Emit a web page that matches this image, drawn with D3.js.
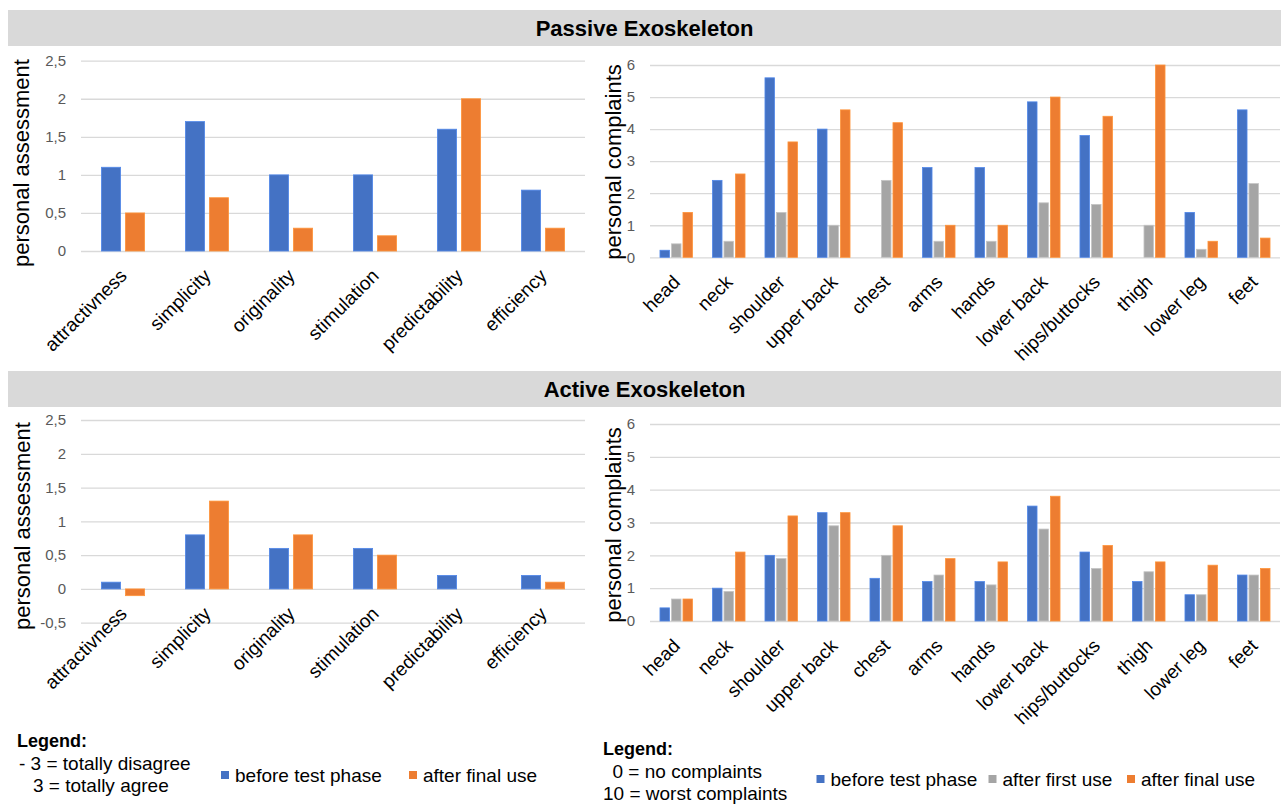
<!DOCTYPE html>
<html>
<head>
<meta charset="utf-8">
<script src="https://cdn.jsdelivr.net/npm/d3@7"></script>
<style>
  html, body { margin: 0; padding: 0; background: #ffffff; }
  svg { display: block; }
  text { font-family: Arial, "Liberation Sans", sans-serif; }
</style>
</head>
<body>
<svg id="chart" width="1281" height="806"></svg>
<script>
// ---------- DATA ----------
const assessCategories = ["attractivness", "simplicity", "originality", "stimulation", "predictability", "efficiency"];
const passiveAssessBefore = [1.1, 1.7, 1.0, 1.0, 1.6, 0.8];
const passiveAssessFinal  = [0.5, 0.7, 0.3, 0.2, 2.0, 0.3];
const activeAssessBefore  = [0.1, 0.8, 0.6, 0.6, 0.2, 0.2];
const activeAssessFinal   = [-0.1, 1.3, 0.8, 0.5, 0, 0.1];

const bodyCategories = ["head", "neck", "shoulder", "upper back", "chest", "arms", "hands", "lower back", "hips/buttocks", "thigh", "lower leg", "feet"];
const passiveBodyBefore = [0.22, 2.4, 5.6, 4.0, 0, 2.8, 2.8, 4.85, 3.8, 0, 1.4, 4.6];
const passiveBodyFirst  = [0.42, 0.5, 1.4, 1.0, 2.4, 0.5, 0.5, 1.7, 1.65, 1.0, 0.25, 2.3];
const passiveBodyFinal  = [1.4, 2.6, 3.6, 4.6, 4.2, 1.0, 1.0, 5.0, 4.4, 6.0, 0.5, 0.6];
const activeBodyBefore  = [0.4, 1.0, 2.0, 3.3, 1.3, 1.2, 1.2, 3.5, 2.1, 1.2, 0.8, 1.4];
const activeBodyFirst   = [0.67, 0.9, 1.9, 2.9, 2.0, 1.4, 1.1, 2.8, 1.6, 1.5, 0.8, 1.4];
const activeBodyFinal   = [0.67, 2.1, 3.2, 3.3, 2.9, 1.9, 1.8, 3.8, 2.3, 1.8, 1.7, 1.6];

const assessTicksPassive = [0, 0.5, 1, 1.5, 2, 2.5];
const assessTicksActive  = [-0.5, 0, 0.5, 1, 1.5, 2, 2.5];
const bodyTicks = [0, 1, 2, 3, 4, 5, 6];

const sectionTitles = ["Passive Exoskeleton", "Active Exoskeleton"];
const assessSeriesNames = ["before test phase", "after final use"];
const bodySeriesNames = ["before test phase", "after first use", "after final use"];
const assessLegendNotes = ["- 3 = totally disagree", "3 = totally agree"];
const bodyLegendNotes = ["0 = no complaints", "10 = worst complaints"];
const yTitleAssess = "personal assessment";
const yTitleBody = "personal complaints";

// ---------- STYLE ----------
const BLUE = "#4472C4", ORANGE = "#ED7D31", GRAY = "#A5A5A5";
const GRID = "#d9d9d9";
const fmt = d => String(d).replace(".", ",");

const svg = d3.select("#chart");

// Section headers
const headerY = [10, 371];
headerY.forEach((y, i) => {
  svg.append("rect").attr("x", 8).attr("y", y).attr("width", 1273).attr("height", 36).attr("fill", "#d9d9d9");
  svg.append("text").attr("x", 644.5).attr("y", y + 18).attr("dy", "0.36em")
    .attr("text-anchor", "middle").attr("font-weight", "bold").attr("font-size", 22)
    .attr("fill", "#000").text(sectionTitles[i]);
});

function panel(o) {
  const g = svg.append("g");
  const x = d3.scaleBand().domain(o.cats).range([o.x0, o.x1])
    .paddingInner(o.pad).paddingOuter(o.pad / 2);
  const xs = d3.scaleBand().domain(d3.range(o.series.length)).range([0, x.bandwidth()])
    .paddingInner(o.subPad).paddingOuter(o.subPad / 2);
  const y = d3.scaleLinear().domain(o.domain).range([o.y0, o.y1]);

  // grid + y tick labels
  const yAxis = d3.axisLeft(y).tickValues(o.ticks).tickFormat(fmt)
    .tickSizeInner(-(o.x1 - o.x0)).tickSizeOuter(0).tickPadding(15);
  const ga = g.append("g").attr("transform", `translate(${o.x0},0)`).call(yAxis);
  ga.select(".domain").remove();
  ga.selectAll(".tick line").attr("stroke", GRID).attr("stroke-width", 1.3);
  ga.selectAll(".tick text").attr("fill", "#595959").attr("font-size", 15)
    .attr("font-family", "Arial, 'Liberation Sans', sans-serif");

  // bars
  o.series.forEach((vals, si) => {
    g.append("g").selectAll("rect").data(vals).join("rect")
      .attr("x", (d, i) => x(o.cats[i]) + xs(si))
      .attr("width", xs.bandwidth())
      .attr("y", d => Math.min(y(d), y(0)))
      .attr("height", d => Math.abs(y(d) - y(0)))
      .attr("fill", o.colors[si])
      .attr("stroke", d => d === 0 ? "none" : d3.color(o.colors[si]).brighter(0.5))
      .attr("stroke-width", 0.8);
  });

  // category labels
  const xAxis = d3.axisBottom(x).tickSize(0);
  const gx = g.append("g").attr("transform", `translate(0,${y(0)})`).call(xAxis);
  gx.select(".domain").remove();
  gx.selectAll(".tick text")
    .attr("x", 0).attr("y", 0).attr("dy", 0)
    .attr("text-anchor", "end")
    .attr("transform", "translate(5,26) rotate(-45)")
    .attr("fill", "#000").attr("font-size", 19)
    .attr("font-family", "Arial, 'Liberation Sans', sans-serif");

  // y title
  g.append("text")
    .attr("transform", `translate(${o.tx},${o.ty}) rotate(-90)`)
    .attr("text-anchor", "middle").attr("dy", "0.35em")
    .attr("font-size", 22).attr("fill", "#000").text(o.title);
}

panel({ cats: assessCategories, series: [passiveAssessBefore, passiveAssessFinal], colors: [BLUE, ORANGE],
  x0: 81, x1: 585, pad: 1 - 48 / 84, subPad: 0.2, domain: [0, 2.5], y0: 251, y1: 60.7,
  ticks: assessTicksPassive, title: yTitleAssess, tx: 21, ty: 163 });
panel({ cats: bodyCategories, series: [passiveBodyBefore, passiveBodyFirst, passiveBodyFinal], colors: [BLUE, GRAY, ORANGE],
  x0: 650, x1: 1280, pad: 1 - 34.5 / 52.5, subPad: 0.17, domain: [0, 6], y0: 257.3, y1: 65,
  ticks: bodyTicks, title: yTitleBody, tx: 613, ty: 162 });
panel({ cats: assessCategories, series: [activeAssessBefore, activeAssessFinal], colors: [BLUE, ORANGE],
  x0: 81, x1: 585, pad: 1 - 48 / 84, subPad: 0.2, domain: [-0.5, 2.5], y0: 622.7, y1: 420,
  ticks: assessTicksActive, title: yTitleAssess, tx: 22, ty: 526 });
panel({ cats: bodyCategories, series: [activeBodyBefore, activeBodyFirst, activeBodyFinal], colors: [BLUE, GRAY, ORANGE],
  x0: 650, x1: 1280, pad: 1 - 34.5 / 52.5, subPad: 0.17, domain: [0, 6], y0: 621, y1: 424,
  ticks: bodyTicks, title: yTitleBody, tx: 613, ty: 525 });

// ---------- LEGENDS ----------
function legend(o) {
  const g = svg.append("g");
  g.append("text").attr("x", o.lx).attr("y", o.ly).attr("font-weight", "bold")
    .attr("font-size", 18).attr("fill", "#000").text("Legend:");
  o.notes.forEach((t, i) => {
    g.append("text").attr("x", o.nx[i]).attr("y", o.ny[i]).attr("font-size", 19)
      .attr("fill", "#000").text(t);
  });
  o.names.forEach((n, i) => {
    g.append("rect").attr("x", o.sx[i]).attr("y", o.sy).attr("width", 8).attr("height", 8).attr("fill", o.colors[i]);
    g.append("text").attr("x", o.sx[i] + 14).attr("y", o.sy + 10.5).attr("font-size", 19)
      .attr("fill", "#000").text(n);
  });
}
legend({ lx: 17, ly: 747, notes: assessLegendNotes, nx: [19, 33], ny: [770, 791.5],
  names: assessSeriesNames, colors: [BLUE, ORANGE], sx: [221, 409], sy: 771 });
legend({ lx: 603, ly: 754.5, notes: bodyLegendNotes, nx: [612.5, 603], ny: [778, 800],
  names: bodySeriesNames, colors: [BLUE, GRAY, ORANGE], sx: [816.5, 988.5, 1127], sy: 775 });
</script>
</body>
</html>
